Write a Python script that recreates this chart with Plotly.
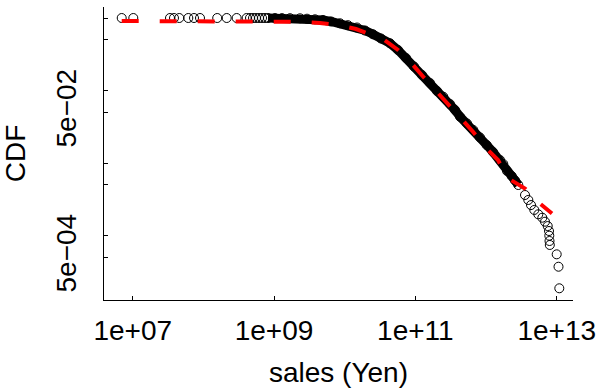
import plotly.graph_objects as go

# ---- data (sales in Yen, CDF = P(X >= x)) ----
top_sales = [6.99e6, 1.02e7, 3.37e7, 3.84e7, 4.56e7, 6.12e7, 7.37e7, 8.96e7,
             1.57e8, 2.14e8, 2.96e8, 4.10e8, 4.57e8, 5.04e8, 5.55e8, 6.13e8,
             6.76e8, 7.45e8]
top_cdf = [1.0] * len(top_sales)

band_sales = [8.21e8, 1.032e9, 1.296e9, 1.682e9, 2.33e9, 2.93e9, 3.80e9, 4.93e9,
              6.40e9, 8.58e9, 1.113e10, 1.493e10, 1.937e10, 2.513e10, 3.262e10,
              4.374e10, 5.677e10, 7.367e10, 9.561e10, 1.241e11, 1.610e11,
              2.023e11, 2.484e11, 3.090e11, 3.636e11, 4.279e11, 5.375e11,
              6.601e11, 8.212e11, 1.021e12, 1.254e12, 1.576e12, 1.754e12,
              1.979e12, 2.307e12, 2.569e12, 2.860e12]
band_cdf = [0.999, 0.998, 0.996, 0.994, 0.9905, 0.978, 0.9596, 0.9385,
            0.8949, 0.8451, 0.7955, 0.7396, 0.6724, 0.5957, 0.5215,
            0.4477, 0.3619, 0.2808, 0.2143, 0.1636, 0.1269,
            0.0984, 0.0821, 0.0651, 0.0538, 0.0435, 0.0351,
            0.0285, 0.0225, 0.0177, 0.01418, 0.0110, 0.00969,
            0.00776, 0.00662, 0.00574, 0.00497]

tail_sales = [3.558e12, 3.962e12, 4.326e12, 4.818e12, 5.488e12, 6.252e12,
              6.828e12, 7.456e12, 7.779e12, 7.855e12, 7.907e12, 7.983e12,
              9.99e12, 1.060e13, 1.088e13]
tail_cdf = [0.00362, 0.00309, 0.00263, 0.00225, 0.00196, 0.00176,
            0.00155, 0.00135, 0.001153, 0.000994, 0.000840, 0.000740,
            0.000550, 0.000371, 0.000187]

fit_sales = [6.99e6, 3.30e8, 1.214e9, 2.33e9, 4.47e9, 8.58e9, 1.444e10,
             2.279e10, 3.482e10, 5.677e10, 9.255e10, 1.281e11, 2.090e11,
             2.894e11, 4.719e11, 6.537e11, 1.066e12, 1.476e12, 2.012e12,
             3.558e12, 5.798e12, 8.57e12]
fit_cdf = [0.909, 0.909, 0.909, 0.886, 0.853, 0.788, 0.705,
           0.602, 0.513, 0.362, 0.2248, 0.156, 0.0923,
           0.0631, 0.03736, 0.02702, 0.01511, 0.0110, 0.00621,
           0.00445, 0.00276, 0.00201]

x_tickvals = [1e7, 1e9, 1e11, 1e13]
x_ticktext = ["1e+07", "1e+09", "1e+11", "1e+13"]
y_tickvals = [1, 0.5, 0.1, 0.05, 0.01, 0.005, 0.001, 0.0005]
y_ticktext = ["", "", "", "5e\u221202", "", "", "", "5e\u221204"]

FONT = "Liberation Sans, Arial, Helvetica, sans-serif"

fig = go.Figure()

# dense part of the empirical CDF: overlapping circles form a solid band
fig.add_trace(go.Scatter(x=band_sales, y=band_cdf, mode="lines",
                         line=dict(color="black", width=9),
                         hoverinfo="skip", showlegend=False))

all_sales = top_sales + band_sales + tail_sales
all_cdf = top_cdf + band_cdf + tail_cdf
fig.add_trace(go.Scatter(x=all_sales, y=all_cdf, mode="markers",
                         marker=dict(symbol="circle-open", size=9,
                                     color="black", line=dict(width=1, color="black")),
                         showlegend=False))

fig.add_trace(go.Scatter(x=fit_sales, y=fit_cdf, mode="lines",
                         line=dict(color="#ff0000", width=4, dash="17px,21px"),
                         showlegend=False))

fig.update_layout(
    width=608, height=390,
    margin=dict(l=104, r=35, t=7, b=90),
    paper_bgcolor="white", plot_bgcolor="white",
    font=dict(family=FONT, size=28, color="black"),
    showlegend=False,
)

fig.update_xaxes(
    type="log", range=[6.5939, 13.2304],
    showgrid=False, zeroline=False,
    showline=True, linecolor="black", linewidth=1, mirror=False,
    ticks="inside", ticklen=4, tickwidth=1, tickcolor="black",
    tickmode="array", tickvals=x_tickvals, ticktext=x_ticktext,
    tickfont=dict(size=28, family=FONT, color="black"),
    ticklabelstandoff=5,
    title=dict(text="sales (Yen)", font=dict(size=28, family=FONT), standoff=17),
    automargin=False,
)

fig.update_yaxes(
    type="log", range=[-3.8897, 0.1517],
    showgrid=False, zeroline=False,
    showline=True, linecolor="black", linewidth=1, mirror=False,
    ticks="inside", ticklen=4, tickwidth=1, tickcolor="black",
    tickmode="array", tickvals=y_tickvals, ticktext=y_ticktext,
    tickangle=-90,
    tickfont=dict(size=28, family=FONT, color="black"),
    ticklabelstandoff=16,
    title=dict(text="CDF", font=dict(size=28, family=FONT), standoff=22),
    automargin=False,
)

fig.write_html("out.html",
               config={"displayModeBar": False},
               post_script="document.body.style.margin='0';document.body.style.overflow='hidden';")
